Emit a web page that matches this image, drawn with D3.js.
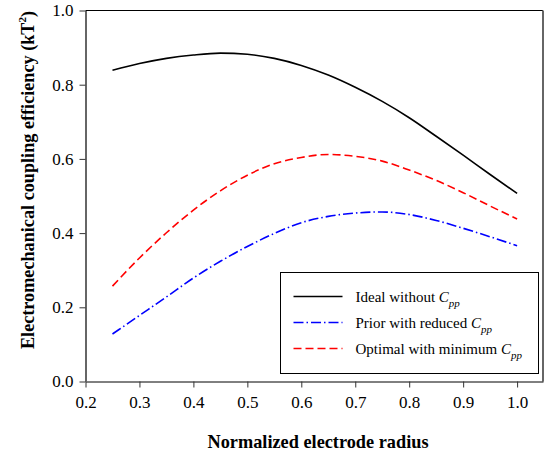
<!DOCTYPE html>
<html>
<head>
<meta charset="utf-8">
<script src="https://cdn.jsdelivr.net/npm/d3@7"></script>
<style>
  body { margin: 0; background: #fff; }
  svg text { font-family: "Liberation Serif", "Times New Roman", serif; fill: #000; }
</style>
</head>
<body>
<div id="root"></div>
<script>
const radius = [0.25, 0.3, 0.35, 0.4, 0.45, 0.5, 0.55, 0.6, 0.65, 0.7, 0.75, 0.8, 0.85, 0.9, 0.95, 1.0];
const ideal = [0.839, 0.857, 0.871, 0.880, 0.885, 0.882, 0.871, 0.852, 0.826, 0.793, 0.755, 0.711, 0.661, 0.610, 0.558, 0.507];
const prior = [0.128, 0.178, 0.228, 0.279, 0.324, 0.364, 0.399, 0.428, 0.445, 0.454, 0.457, 0.450, 0.434, 0.413, 0.390, 0.366];
const optimal = [0.257, 0.333, 0.401, 0.462, 0.514, 0.556, 0.587, 0.604, 0.612, 0.607, 0.594, 0.570, 0.542, 0.509, 0.473, 0.438];
const xTicks = [0.2, 0.3, 0.4, 0.5, 0.6, 0.7, 0.8, 0.9, 1.0];
const yTicks = [0.0, 0.2, 0.4, 0.6, 0.8, 1.0];

const seriesList = [
  { name: 'Ideal without ', values: ideal, color: '#000', dash: null },
  { name: 'Prior with reduced ', values: prior, color: '#0000ff', dash: '10,3,1.5,3' },
  { name: 'Optimal with minimum ', values: optimal, color: '#ff0000', dash: '8,4' },
];

const svgWidth = 551;
const svgHeight = 460;
const margin = { top: 10.5, right: 8, bottom: 78.5, left: 85.5 };
const chartWidth = svgWidth - margin.left - margin.right;
const chartHeight = svgHeight - margin.top - margin.bottom;

const xScale = d3.scaleLinear().domain([0.2, 1.048]).range([0, chartWidth]);
const yScale = d3.scaleLinear().domain([0, 1]).range([chartHeight, 0]);

const svg = d3.select('#root').append('svg')
  .attr('width', svgWidth)
  .attr('height', svgHeight);

const chart = svg.append('g')
  .attr('transform', `translate(${margin.left}, ${margin.top})`);

// frame: black top/bottom, grey heavier left/right
chart.append('line').attr('x1', 0).attr('x2', chartWidth).attr('y1', 0).attr('y2', 0)
  .attr('stroke', '#000').attr('stroke-width', 1);
chart.append('line').attr('x1', chartWidth).attr('x2', chartWidth).attr('y1', 0).attr('y2', chartHeight)
  .attr('stroke', '#666').attr('stroke-width', 2);

const xAxis = chart.append('g')
  .attr('transform', `translate(0, ${chartHeight})`)
  .call(d3.axisBottom(xScale).tickValues(xTicks).tickFormat(d3.format('.1f')).tickSizeInner(6).tickSizeOuter(0).tickPadding(8));
xAxis.attr('font-family', null).attr('font-size', 17);
xAxis.select('.domain').attr('stroke', '#000');
xAxis.selectAll('.tick line').attr('stroke', '#333');

const yAxis = chart.append('g')
  .call(d3.axisLeft(yScale).tickValues(yTicks).tickFormat(d3.format('.1f')).tickSizeInner(6).tickSizeOuter(0).tickPadding(6));
yAxis.attr('font-family', null).attr('font-size', 17);
yAxis.select('.domain').attr('stroke', '#666').attr('stroke-width', 2);
yAxis.selectAll('.tick line').attr('stroke', '#333');

const line = d3.line()
  .x((d, i) => xScale(radius[i]))
  .y(d => yScale(d))
  .curve(d3.curveMonotoneX);

chart.selectAll('.series')
  .data(seriesList)
  .enter()
  .append('path')
  .attr('class', 'series')
  .attr('fill', 'none')
  .attr('stroke', d => d.color)
  .attr('stroke-width', 1.6)
  .attr('stroke-dasharray', d => d.dash)
  .attr('d', d => line(d.values));

// legend
const legend = svg.append('g')
  .attr('transform', 'translate(280.5, 272.5)');

legend.append('rect')
  .attr('width', 258)
  .attr('height', 101)
  .attr('fill', '#fff')
  .attr('stroke', '#000')
  .attr('stroke-width', 1);

const legendItems = legend.selectAll('.item')
  .data(seriesList)
  .enter()
  .append('g')
  .attr('class', 'item')
  .attr('transform', (d, i) => `translate(0, ${24 + i * 26})`);

legendItems.append('line')
  .attr('x1', 13).attr('x2', 62)
  .attr('y1', 0).attr('y2', 0)
  .attr('stroke', d => d.color)
  .attr('stroke-width', 1.6)
  .attr('stroke-dasharray', d => d.dash);

const legendText = legendItems.append('text')
  .attr('x', 75)
  .attr('y', 5)
  .attr('font-size', 15);
legendText.append('tspan').text(d => d.name);
legendText.append('tspan').attr('font-style', 'italic').text('C');
legendText.append('tspan').attr('font-style', 'italic').attr('font-size', 11).attr('dy', 5).text('pp');

// axis titles
svg.append('text')
  .attr('x', 318)
  .attr('y', 448)
  .attr('text-anchor', 'middle')
  .attr('font-size', 18.3)
  .attr('font-weight', 'bold')
  .text('Normalized electrode radius');

const yTitle = svg.append('text')
  .attr('transform', 'translate(34, 180) rotate(-90)')
  .attr('text-anchor', 'middle')
  .attr('font-size', 18.2)
  .attr('font-weight', 'bold');
yTitle.append('tspan').text('Electromechanical coupling efficiency (kT');
yTitle.append('tspan').attr('font-size', 11).attr('dy', -8).text('2');
yTitle.append('tspan').attr('dy', 8).text(')');
</script>
</body>
</html>
